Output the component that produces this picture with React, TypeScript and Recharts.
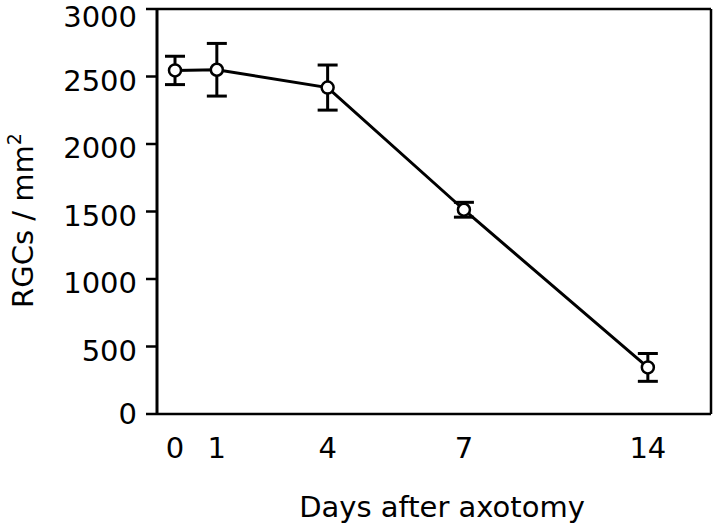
import React from 'react';
import { LineChart, Line, XAxis, YAxis, ErrorBar, Label } from 'recharts';

// ---- data ----
const days = [0, 1, 4, 7, 14];
const xTickLabels = ['0', '1', '4', '7', '14'];
const rgcDensity = [2545, 2550, 2418, 1513, 345];
const rgcSem = [105, 195, 167, 55, 103];
const yTicks = [0, 500, 1000, 1500, 2000, 2500, 3000];

const data = days.map((d, i) => ({ day: d, rgc: rgcDensity[i], sem: rgcSem[i] }));

// ---- axis layout: the original x axis is not evenly spaced in days;
// these are the fractions of the axis length where each day sits ----
const DAY_STOPS = [0.0325, 0.108, 0.308, 0.554, 0.886];

function makeDayScale(knots: number[], stops: number[]): any {
  let dom: number[] = [knots[0], knots[knots.length - 1]];
  let rng: number[] = [0, 1];
  const toT = (v: number) => {
    const n = knots.length;
    let i = 0;
    if (v <= knots[0]) i = 0;
    else if (v >= knots[n - 1]) i = n - 2;
    else {
      while (i < n - 2 && v > knots[i + 1]) i++;
    }
    const k0 = knots[i], k1 = knots[i + 1];
    const s0 = stops[i], s1 = stops[i + 1];
    return s0 + ((v - k0) / (k1 - k0)) * (s1 - s0);
  };
  const fromT = (t: number) => {
    const n = stops.length;
    let i = 0;
    if (t <= stops[0]) i = 0;
    else if (t >= stops[n - 1]) i = n - 2;
    else {
      while (i < n - 2 && t > stops[i + 1]) i++;
    }
    const k0 = knots[i], k1 = knots[i + 1];
    const s0 = stops[i], s1 = stops[i + 1];
    return k0 + ((t - s0) / (s1 - s0)) * (k1 - k0);
  };
  const scale: any = (v: any) => rng[0] + toT(Number(v)) * (rng[1] - rng[0]);
  scale.domain = (d?: any[]) => {
    if (d === undefined) return dom.slice();
    dom = d.map(Number);
    return scale;
  };
  scale.range = (r?: any[]) => {
    if (r === undefined) return rng.slice();
    rng = r.map(Number);
    return scale;
  };
  scale.copy = () => makeDayScale(knots, stops).domain(dom).range(rng);
  scale.ticks = () => knots.slice();
  scale.tickFormat = () => (v: any) => String(v);
  scale.invert = (px: number) => fromT((px - rng[0]) / (rng[1] - rng[0]));
  scale.clamp = () => scale;
  scale.nice = () => scale;
  return scale;
}

const dayScale = makeDayScale(days, DAY_STOPS);

const FONT = '"DejaVu Sans", "Liberation Sans", Arial, sans-serif';
const FS = 29;

const XTick = (props: any) => {
  const { x, y, payload, index } = props;
  return (
    <text x={x} y={y + 44} textAnchor="middle" fontFamily={FONT} fontSize={FS} fill="#000">
      {xTickLabels[index] ?? String(payload.value)}
    </text>
  );
};

const YTick = (props: any) => {
  const { x, y, payload } = props;
  const shift = payload.value === 0 ? 10 : payload.value === 3000 ? 18 : 14;
  return (
    <text x={x} y={y + shift} textAnchor="end" fontFamily={FONT} fontSize={FS} fill="#000">
      {payload.value}
    </text>
  );
};

const YTitle = (props: any) => {
  const vb = props.viewBox || { x: 0, y: 0, width: 0, height: 0 };
  const cx = vb.x + 33;
  const cy = vb.y + vb.height / 2 + 9;
  return (
    <text
      x={cx}
      y={cy}
      transform={`rotate(-90 ${cx} ${cy})`}
      textAnchor="middle"
      fontFamily={FONT}
      fontSize={FS}
      fill="#000"
    >
      RGCs / mm
      <tspan dy={-12} fontSize={19}>2</tspan>
    </text>
  );
};

const XTitle = (props: any) => {
  const vb = props.viewBox || { x: 0, y: 0, width: 0, height: 0 };
  const cx = vb.x + vb.width / 2 + 8;
  const cy = vb.y + 103;
  return (
    <text x={cx} y={cy} textAnchor="middle" fontFamily={FONT} fontSize={FS} fill="#000">
      Days after axotomy
    </text>
  );
};

export default function App() {
  return (
    <div style={{ position: 'absolute', left: 0, top: 0, width: 720, height: 532, background: '#fff' }}>
      <LineChart
        width={720}
        height={532}
        data={data}
        margin={{ top: 8, right: 8, bottom: 0, left: 0 }}
      >
        <XAxis
          dataKey="day"
          type="number"
          domain={[0, 14]}
          scale={dayScale}
          ticks={days}
          interval={0}
          height={118}
          tickLine={false}
          tickSize={0}
          tickMargin={0}
          tick={<XTick />}
          axisLine={{ stroke: '#000', strokeWidth: 2.5 }}
        >
          <Label content={<XTitle />} />
        </XAxis>
        <XAxis
          xAxisId="top"
          orientation="top"
          type="number"
          domain={[0, 14]}
          height={1}
          tick={false}
          tickLine={false}
          axisLine={{ stroke: '#000', strokeWidth: 2.5 }}
        />
        <YAxis
          type="number"
          domain={[0, 3000]}
          ticks={yTicks}
          interval={0}
          width={157}
          tickSize={11}
          tickMargin={9}
          tickLine={{ stroke: '#000', strokeWidth: 2.5 }}
          axisLine={{ stroke: '#000', strokeWidth: 3 }}
          tick={<YTick />}
        >
          <Label content={<YTitle />} />
        </YAxis>
        <YAxis
          yAxisId="right"
          orientation="right"
          type="number"
          domain={[0, 3000]}
          width={1}
          tick={false}
          tickLine={false}
          axisLine={{ stroke: '#000', strokeWidth: 2.5 }}
        />
        <Line
          type="linear"
          dataKey="rgc"
          stroke="#000"
          strokeWidth={3}
          isAnimationActive={false}
          dot={{ r: 6, fill: '#fff', stroke: '#000', strokeWidth: 2.5 }}
          activeDot={false}
        >
          <ErrorBar dataKey="sem" direction="y" width={10} stroke="#000" strokeWidth={3} isAnimationActive={false} />
        </Line>
      </LineChart>
    </div>
  );
}
